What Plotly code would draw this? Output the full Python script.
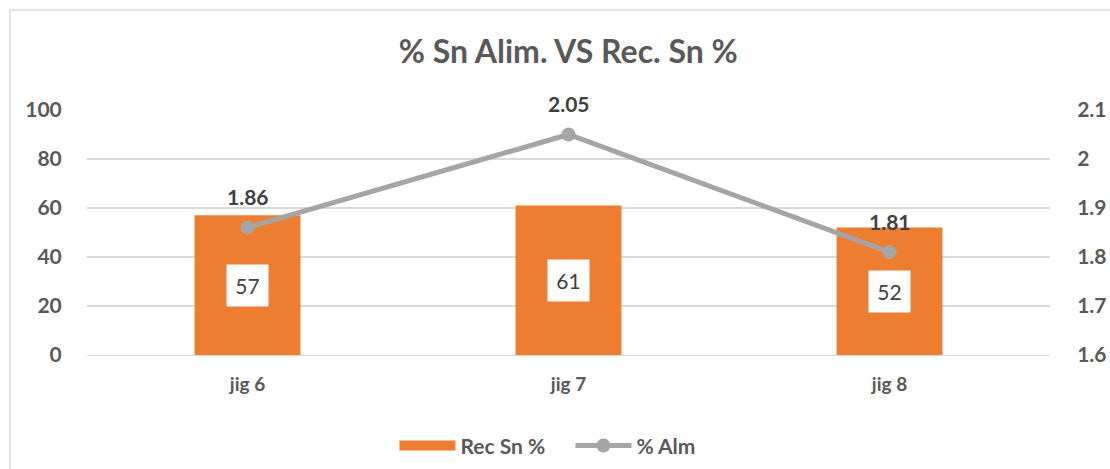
import plotly.graph_objects as go

categories = ["jig 6", "jig 7", "jig 8"]
rec_sn = [57, 61, 52]
alm = [1.86, 2.05, 1.81]
left_ticks = [0, 20, 40, 60, 80, 100]
right_ticks = [1.6, 1.7, 1.8, 1.9, 2.0, 2.1]

GRAY = "#595959"
ORANGE = "#ED7D31"
LINEGRAY = "#A5A5A5"
FONT = "Lato"

fig = go.Figure()
fig.add_trace(go.Bar(
    x=categories, y=rec_sn, name="Rec Sn %", showlegend=False,
    marker=dict(color=ORANGE, line=dict(width=0)),
    width=0.33,
))
# legend-only entry giving a wide rectangular swatch for the bars
fig.add_trace(go.Scatter(
    x=[None], y=[None], name="Rec Sn %", mode="lines",
    line=dict(color=ORANGE, width=13),
))
fig.add_trace(go.Scatter(
    x=categories, y=alm, name="% Alm", yaxis="y2",
    mode="lines+markers",
    line=dict(color=LINEGRAY, width=5),
    marker=dict(color=LINEGRAY, size=14),
))

annotations = []
for c, v in zip(categories, rec_sn):
    annotations.append(dict(
        x=c, y=v / 2, xref="x", yref="y", text=str(v), showarrow=False,
        bgcolor="white", font=dict(family=FONT, size=21, color="#404040"),
        borderpad=8, width=25,
    ))
for c, v in zip(categories, alm):
    annotations.append(dict(
        x=c, y=v, xref="x", yref="y2", text=f"{v:.2f}", showarrow=False,
        font=dict(family=FONT, size=21, color="#404040", weight="bold"),
        yshift=31,
    ))

fig.update_layout(
    width=1110, height=469,
    margin=dict(l=87, r=60, t=110, b=114, autoexpand=False),
    paper_bgcolor="white", plot_bgcolor="white",
    font=dict(family=FONT, color=GRAY),
    title=dict(text="<b>% Sn Alim. VS Rec. Sn %</b>", x=0.512, xanchor="center",
               y=0.89, yanchor="middle",
               font=dict(family=FONT, size=32, color=GRAY)),
    showlegend=True,
    legend=dict(orientation="h", x=0.502, xanchor="center", y=-0.371, yanchor="middle",
                itemwidth=56, traceorder="normal", entrywidth=105,
                font=dict(family=FONT, size=21, color=GRAY, weight="bold")),
    bargap=0.67,
    xaxis=dict(showgrid=False, showline=True, linecolor="#D9D9D9", linewidth=1,
               tickfont=dict(family=FONT, size=19, color=GRAY, weight="bold"),
               ticks="outside", ticklen=12, tickcolor="rgba(0,0,0,0)"),
    yaxis=dict(range=[0, 100], tickvals=left_ticks, showgrid=True, gridcolor="#D9D9D9",
               gridwidth=1.5, zeroline=False,
               tickfont=dict(family=FONT, size=21, color=GRAY, weight="bold"),
               ticks="outside", ticklen=20, tickcolor="rgba(0,0,0,0)"),
    yaxis2=dict(range=[1.6, 2.1], tickvals=right_ticks, overlaying="y", side="right",
                showgrid=False, zeroline=False,
                tickfont=dict(family=FONT, size=21, color=GRAY, weight="bold"),
                ticks="outside", ticklen=22, tickcolor="rgba(0,0,0,0)"),
    annotations=annotations,
    shapes=[dict(type="rect", xref="paper", yref="paper",
                 x0=-0.0800, x1=1.2, y0=-0.8, y1=1.408,
                 line=dict(color="#D9D9D9", width=1.5), fillcolor="rgba(0,0,0,0)",
                 layer="below")],
)

fig.write_html("out.html")
